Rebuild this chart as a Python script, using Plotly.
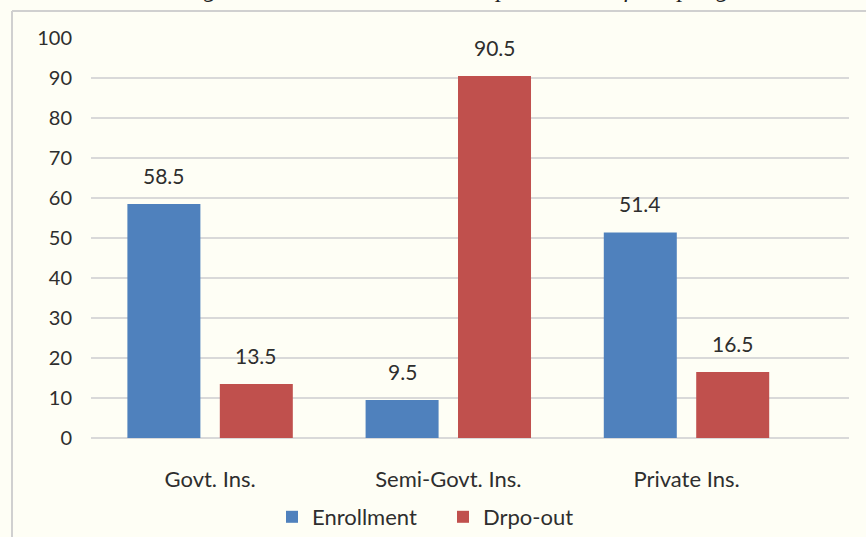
import plotly.graph_objects as go

categories = ["Govt. Ins.", "Semi-Govt. Ins.", "Private Ins."]
enrollment = [58.5, 9.5, 51.4]
dropout = [13.5, 90.5, 16.5]
series_names = ["Enrollment", "Drpo-out"]
y_ticks = [0, 10, 20, 30, 40, 50, 60, 70, 80, 90, 100]
caption = "Figure 4.4: Enrollment and dropout status of sampling"

W, H = 866, 537
ml, mr, mt, mb = 91, 17, 38, 99
plot_w = W - ml - mr
plot_h = H - mt - mb

bar_w = 0.3065
shift = 0.194
txt = "#2e2e2e"
font = "Lato"
bg = "#FEFEF5"
x_pos = list(range(len(categories)))

fig = go.Figure()
fig.add_trace(go.Bar(
    x=[i - shift for i in x_pos], y=enrollment, width=bar_w, name=series_names[0],
    marker=dict(color="#4F81BD", line=dict(width=0)),
))
fig.add_trace(go.Bar(
    x=[i + shift for i in x_pos], y=dropout, width=bar_w, name=series_names[1],
    marker=dict(color="#C0504D", line=dict(width=0)),
))

# data labels above bars
for xs, vals in [([i - shift for i in x_pos], enrollment), ([i + shift for i in x_pos], dropout)]:
    for x, v in zip(xs, vals):
        fig.add_annotation(x=x, y=v, text=f"{v}", showarrow=False, yanchor="bottom",
                           yshift=14, font=dict(family=font, size=21, color=txt))

# caption of the source page, mostly cut off at the top edge
fig.add_annotation(xref="paper", yref="paper", x=(179 - ml) / plot_w, xanchor="left",
                   y=1 + (mt - 4.5) / plot_h, yanchor="bottom", text=caption, showarrow=False,
                   font=dict(family="Liberation Serif", size=25, color="#222", style="italic"))

# chart frame (left and top edges)
left_x = (12 - ml) / plot_w
top_y = 1 + (mt - 11) / plot_h
fig.add_shape(type="line", xref="paper", yref="paper", x0=left_x, x1=left_x, y0=top_y, y1=-mb / plot_h - 0.01,
              line=dict(color="#D0D0D0", width=2))
fig.add_shape(type="line", xref="paper", yref="paper", x0=left_x, x1=1 + mr / plot_w + 0.01, y0=top_y, y1=top_y,
              line=dict(color="#D0D0D0", width=2))

fig.update_layout(
    width=W, height=H,
    margin=dict(l=ml, r=mr, t=mt, b=mb),
    paper_bgcolor=bg, plot_bgcolor=bg,
    barmode="overlay",
    font=dict(family=font, size=20, color=txt),
    showlegend=True,
    legend=dict(orientation="h", xref="container", x=272 / W, xanchor="left",
                yref="container", y=1 - 517 / H, yanchor="middle",
                entrywidth=126, entrywidthmode="pixels",
                font=dict(family=font, size=22, color=txt), bgcolor="rgba(0,0,0,0)"),
    xaxis=dict(range=[-0.5, plot_w / 238.2 - 0.5], tickvals=x_pos, ticktext=categories,
               showgrid=False, zeroline=False, showline=False, ticks="", ticklabelstandoff=26,
               automargin=False, tickfont=dict(family=font, size=22, color=txt)),
    yaxis=dict(range=[0, 100], tickvals=y_ticks, showgrid=True, gridcolor="#D9D9D9", gridwidth=2,
               zeroline=True, zerolinecolor="#D9D9D9", zerolinewidth=2, showline=False, ticks="",
               automargin=False, ticklabelstandoff=18, tickfont=dict(family=font, size=20, color=txt)),
)

# drop the default body margin so the figure fills the window exactly
fig.write_html("out.html", config={"displayModeBar": False},
               post_script=f"document.body.style.margin='0';document.body.style.background='{bg}';")
